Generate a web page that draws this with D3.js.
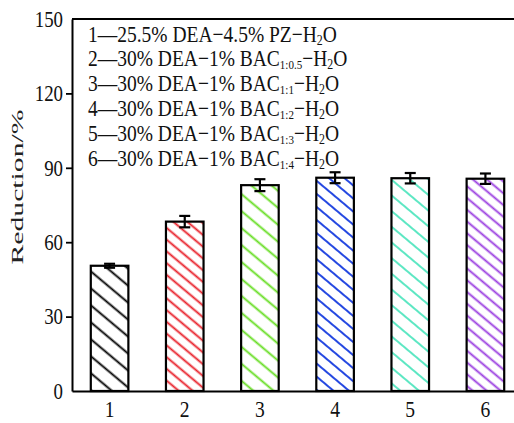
<!DOCTYPE html>
<html>
<head>
<meta charset="utf-8">
<script src="https://cdn.jsdelivr.net/npm/d3@7"></script>
<style>
  body { margin: 0; background: #fff; }
  svg { display: block; }
  svg text { font-family: "Liberation Serif", "DejaVu Serif", serif; }
</style>
</head>
<body>
<script>
// bar categories and values
const samples = ['1', '2', '3', '4', '5', '6']
const reduction = [50.5, 68.3, 83.0, 86.0, 85.8, 85.6]
const errors = [0.8, 2.3, 2.4, 2.2, 2.1, 2.1]
const colors = ['#000000', '#e8202a', '#66dd22', '#1a3fe0', '#55e6c0', '#9a3ee0']
const hatchGap = [13, 9, 13, 10, 12, 9]
const yTicks = [0, 30, 60, 90, 120, 150]

// legend lines: lead text, then optional BAC ratio subscript, then −H2O
const legendRows = [
    { lead: '1—25.5% DEA−4.5% PZ−H', sub: null },
    { lead: '2—30% DEA−1% BAC', sub: '1:0.5' },
    { lead: '3—30% DEA−1% BAC', sub: '1:1' },
    { lead: '4—30% DEA−1% BAC', sub: '1:2' },
    { lead: '5—30% DEA−1% BAC', sub: '1:3' },
    { lead: '6—30% DEA−1% BAC', sub: '1:4' }
]

const W = 514, H = 423
const svg = d3.select('body').append('svg').attr('width', W).attr('height', H)

const x = d3.scaleBand().domain(samples).range([72, 523]).paddingInner(0.5).paddingOuter(0.25)
const y = d3.scaleLinear().domain([0, 150]).range([391, 19])

// hatch patterns
const defs = svg.append('defs')
colors.forEach((c, i) => {
    const p = defs.append('pattern')
        .attr('id', 'hatch' + i)
        .attr('patternUnits', 'userSpaceOnUse')
        .attr('width', hatchGap[i]).attr('height', 20)
        .attr('patternTransform', 'rotate(-50)')
    p.append('line')
        .attr('x1', hatchGap[i] / 2).attr('x2', hatchGap[i] / 2)
        .attr('y1', 0).attr('y2', 20)
        .attr('stroke', c).attr('stroke-width', 1.9)
})

// top frame line
svg.append('line')
    .attr('x1', 72).attr('x2', W).attr('y1', y(150)).attr('y2', y(150))
    .attr('stroke', '#000').attr('stroke-width', 2)

// bars
svg.selectAll('rect.bar')
    .data(reduction)
    .join('rect')
    .attr('class', 'bar')
    .attr('x', (d, i) => x(samples[i]))
    .attr('width', x.bandwidth())
    .attr('y', d => y(d))
    .attr('height', d => y(0) - y(d))
    .attr('fill', (d, i) => 'url(#hatch' + i + ')')
    .attr('stroke', '#000').attr('stroke-width', 2.2)

// error bars
svg.selectAll('g.err')
    .data(reduction)
    .join('g')
    .attr('class', 'err')
    .attr('stroke', '#000').attr('stroke-width', 2.2)
    .each(function (d, i) {
        const g = d3.select(this)
        const cx = x(samples[i]) + x.bandwidth() / 2
        const lo = y(d - errors[i]), hi = y(d + errors[i])
        g.append('line').attr('x1', cx).attr('x2', cx).attr('y1', lo).attr('y2', hi)
        g.append('line').attr('x1', cx - 5.5).attr('x2', cx + 5.5).attr('y1', lo).attr('y2', lo)
        g.append('line').attr('x1', cx - 5.5).attr('x2', cx + 5.5).attr('y1', hi).attr('y2', hi)
    })

// y axis
const yAxis = svg.append('g')
    .attr('transform', 'translate(72,0)')
    .call(d3.axisLeft(y).tickValues(yTicks).tickSize(6).tickPadding(4).tickSizeOuter(0))
yAxis.select('.domain').attr('stroke-width', 2)
yAxis.selectAll('.tick line').attr('stroke-width', 1.8)
yAxis.selectAll('.tick').filter(d => d === 0 || d === 150).select('line').remove()
yAxis.selectAll('.tick text')
    .attr('font-size', 23).attr('fill', '#111')
    .attr('transform', 'scale(0.82,1)')
    .attr('x', -9 / 0.82)

// x axis
const xAxis = svg.append('g')
    .attr('transform', 'translate(0,391)')
    .call(d3.axisBottom(x).tickSize(0).tickPadding(10).tickSizeOuter(0))
xAxis.select('.domain').attr('stroke-width', 2)
xAxis.selectAll('.tick text')
    .attr('font-size', 23).attr('fill', '#111')
    .attr('transform', 'scale(0.85,1)')

// y label
svg.append('text')
    .attr('transform', 'translate(23,187) rotate(-90)')
    .attr('text-anchor', 'middle')
    .attr('font-size', 16).attr('fill', '#222')
    .attr('textLength', 155).attr('lengthAdjust', 'spacingAndGlyphs')
    .text('Reduction/%')

// legend
const leg = svg.append('g').attr('fill', '#111')
legendRows.forEach((r, i) => {
    const t = leg.append('text')
        .attr('x', 0).attr('y', 0)
        .attr('font-size', 23)
    t.append('tspan').text(r.lead)
    if (r.sub) {
        t.append('tspan').attr('font-size', 13).attr('dy', 3).text(r.sub)
        t.append('tspan').attr('dy', -3).text('−H')
    }
    t.append('tspan').attr('font-size', 14).attr('dy', 3).text('2')
    t.append('tspan').attr('dy', -3).text('O')
})
// horizontally condensed like the source figure
const w0 = leg.select('text').node().getComputedTextLength()
const sx = 249 / w0
leg.selectAll('text').each(function (d, i) {
    d3.select(this).attr('transform', 'translate(88,' + (41.5 + i * 24.8) + ') scale(' + sx + ',1)')
})
</script>
</body>
</html>
